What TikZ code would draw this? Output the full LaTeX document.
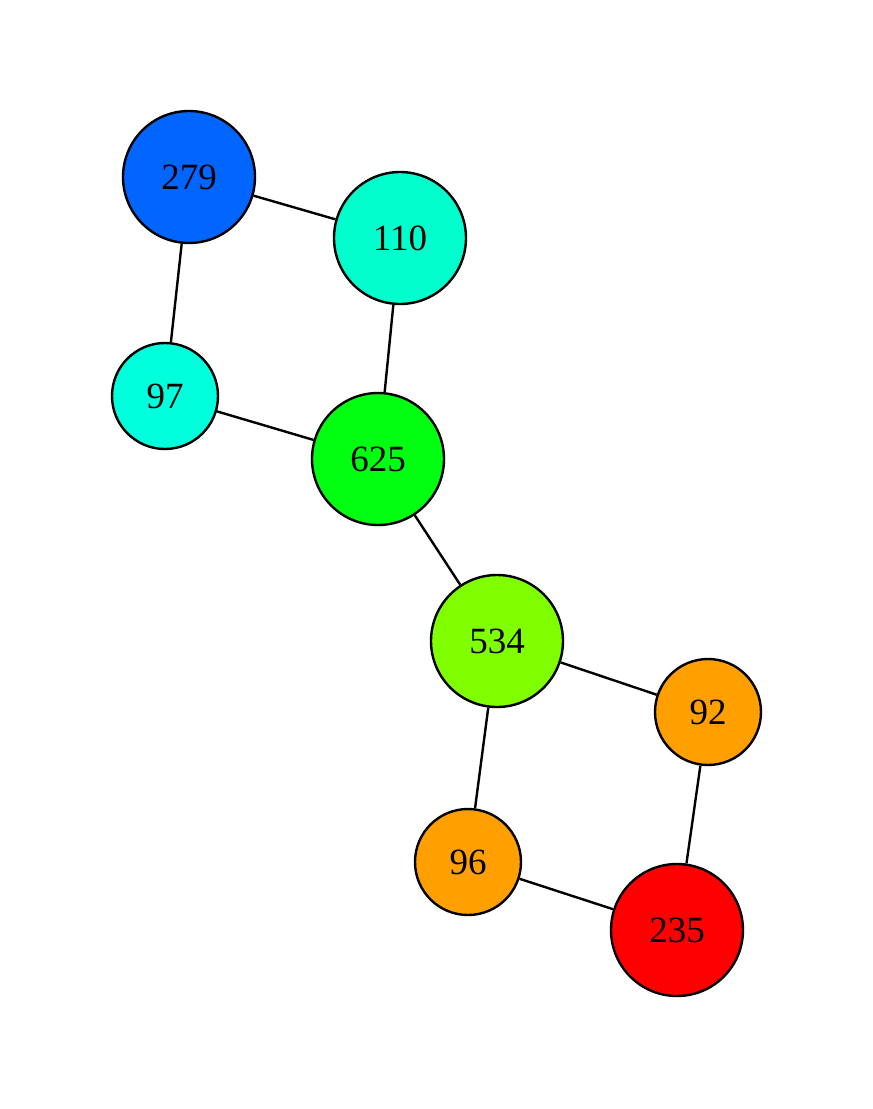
\documentclass[tikz,border=0pt]{standalone}
\usepackage{fontspec}
\setmainfont{Liberation Serif}
\usepackage{tikz}
\usetikzlibrary{positioning}

\definecolor{cblue}{RGB}{0,102,255}
\definecolor{ccyan}{RGB}{0,255,204}
\definecolor{ccyanb}{RGB}{0,255,221}
\definecolor{cgreen}{RGB}{0,255,17}
\definecolor{clime}{RGB}{128,255,0}
\definecolor{corange}{RGB}{255,160,0}
\definecolor{cred}{RGB}{255,0,0}

\begin{document}
\begin{tikzpicture}[x=1pt, y=-1pt,
bignode/.style={circle, draw, line width=2.4pt, minimum size=132pt, inner sep=0pt, font=\fontsize{37}{40}\selectfont},
smallnode/.style={circle, draw, line width=2.4pt, minimum size=106pt, inner sep=0pt, font=\fontsize{37}{40}\selectfont},
edge/.style={line width=2.4pt}]

\useasboundingbox (0,0) rectangle (873,1109);

\node[bignode, fill=cblue]     (v279) at (189,177) {279};
\node[bignode, fill=ccyan]     (v110) at (400,238) {110};
\node[smallnode, fill=ccyanb]  (v97)  at (165,396) {97};
\node[bignode, fill=cgreen]    (v625) at (378,459) {625};
\node[bignode, fill=clime]     (v534) at (497,641) {534};
\node[smallnode, fill=corange] (v92)  at (708,712) {92};
\node[smallnode, fill=corange] (v96)  at (468,862) {96};
\node[bignode, fill=cred]      (v235) at (677,930) {235};

\draw[edge] (v279) -- (v110);
\draw[edge] (v279) -- (v97);
\draw[edge] (v110) -- (v625);
\draw[edge] (v97) -- (v625);
\draw[edge] (v625) -- (v534);
\draw[edge] (v534) -- (v92);
\draw[edge] (v534) -- (v96);
\draw[edge] (v92) -- (v235);
\draw[edge] (v96) -- (v235);

\end{tikzpicture}
\end{document}
